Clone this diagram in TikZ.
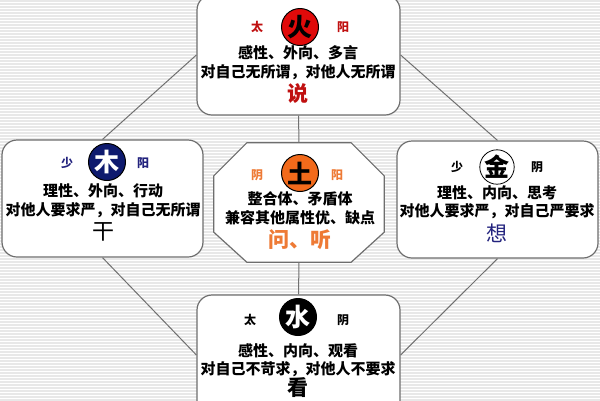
\documentclass[tikz,border=0pt]{standalone}
\usepackage{fontspec}
\newfontfamily\cjk{Noto Sans CJK SC}
\definecolor{boxgray}{HTML}{6E6E6E}
\definecolor{linegray}{HTML}{707070}
\definecolor{stripegray}{HTML}{E8E8E8}
\definecolor{firered}{HTML}{E00A0A}
\definecolor{darkred}{HTML}{C01010}
\definecolor{navy}{HTML}{0E1A6E}
\definecolor{navytext}{HTML}{23237E}
\definecolor{earthorange}{HTML}{F26A1B}
\definecolor{orangetext}{HTML}{EE7A35}
\begin{document}
\begin{tikzpicture}[x=1pt,y=-1pt,
  box/.style={draw=boxgray, line width=1.2pt, fill=white, rounded corners=15pt, inner sep=0pt},
  link/.style={draw=linegray, line width=1pt},
  badge/.style={circle, draw=black, line width=1pt, minimum size=37pt, inner sep=0pt, font=\cjk\bfseries\fontsize{25}{25}\selectfont},
  tag/.style={inner sep=0pt, font=\cjk\bfseries\fontsize{12}{12}\selectfont},
  body/.style={inner sep=0pt, font=\cjk\bfseries\fontsize{15}{15}\selectfont},
  keyword/.style={inner sep=0pt, font=\cjk\bfseries\fontsize{21}{21}\selectfont}]
\useasboundingbox (0,0) rectangle (600,400);
\fill[white] (0,0) rectangle (600,400);
\foreach \k in {1,4,...,400} \draw[stripegray, line width=1.1pt] (0,\k) -- (600,\k);

% boxes
\node[box, minimum width=203pt, minimum height=120pt] (fire) at (298.5,55) {};
\node[box, minimum width=201pt, minimum height=117pt] (wood) at (102.5,198.5) {};
\node[box, minimum width=201pt, minimum height=117pt] (metal) at (497.5,199.5) {};
\node[box, minimum width=203pt, minimum height=120pt] (water) at (298.5,355) {};
\node[minimum width=170pt, minimum height=119pt, inner sep=0pt] (earth) at (299,202.5) {};
\draw[draw=boxgray, line width=1.2pt, fill=white]
  ([xshift=33pt]earth.north west) -- ([xshift=-33pt]earth.north east)
  -- ([yshift=-33pt]earth.north east) -- ([yshift=30pt]earth.south east)
  -- ([xshift=-33pt]earth.south east) -- ([xshift=33pt]earth.south west)
  -- ([yshift=30pt]earth.south west) -- ([yshift=-33pt]earth.north west) -- cycle;

% connectors
\draw[link] (fire.west) -- (wood.north);
\draw[link] (fire.east) -- (metal.north);
\draw[link] (wood.south) -- (water.west);
\draw[link] (metal.south) -- (water.east);
\draw[link] (fire.south) -- (earth.north);
\draw[link] (earth.south) -- (water.north);

% fire
\node[badge, fill=firered, text=black] (fireb) at (300,27) {火};
\node[tag, text=darkred] (firel) at (257,27) {太};
\node[tag, text=darkred] (firer) at (343,27) {阳};
\node[body] (fire1) at (298,53) {感性、外向、多言};
\node[body] (fire2) at (298,72.5) {对自己无所谓，对他人无所谓};
\node[keyword, text=darkred] (firek) at (298,94) {说};

% wood
\node[badge, fill=navy, text=white] (woodb) at (107,162) {木};
\node[tag, text=navytext] (woodl) at (67,163) {少};
\node[tag, text=navytext] (woodr) at (143,163) {阳};
\node[body] (wood1) at (103,191) {理性、外向、行动};
\node[body] (wood2) at (103,210) {对他人要求严，对自己无所谓};
\node[inner sep=0pt, font=\cjk\fontsize{22}{22}\selectfont] (woodk) at (103,232) {干};

% earth
\node[badge, fill=earthorange, text=black] (earthb) at (300,173) {土};
\node[tag, text=orangetext] (earthl) at (257,175) {阴};
\node[tag, text=orangetext] (earthr) at (337,175) {阳};
\node[body] (earth1) at (300,199) {整合体、矛盾体};
\node[body] (earth2) at (300,218) {兼容其他属性优、缺点};
\node[keyword, text=orangetext] (earthk) at (300,240) {问、听};

% metal
\node[badge, fill=white, text=black, line width=0.8pt, minimum size=32pt] (metalb) at (497,167) {金};
\node[tag, text=black] (metall) at (457,167) {少};
\node[tag, text=black] (metalr) at (537,167) {阴};
\node[body] (metal1) at (497,193) {理性、内向、思考};
\node[body] (metal2) at (497,211) {对他人要求严，对自己严要求};
\node[keyword, text=navytext, font=\cjk\fontsize{21}{21}\selectfont] (metalk) at (497,233) {想};

% water
\node[badge, fill=black, text=white] (waterb) at (298,317) {水};
\node[tag, text=black] (waterl) at (250,320) {太};
\node[tag, text=black] (waterr) at (343,320) {阴};
\node[body] (water1) at (298,351) {感性、内向、观看};
\node[body] (water2) at (298,369) {对自己不苛求，对他人不要求};
\node[keyword, text=black] (waterk) at (298,388) {看};
\end{tikzpicture}
\end{document}
